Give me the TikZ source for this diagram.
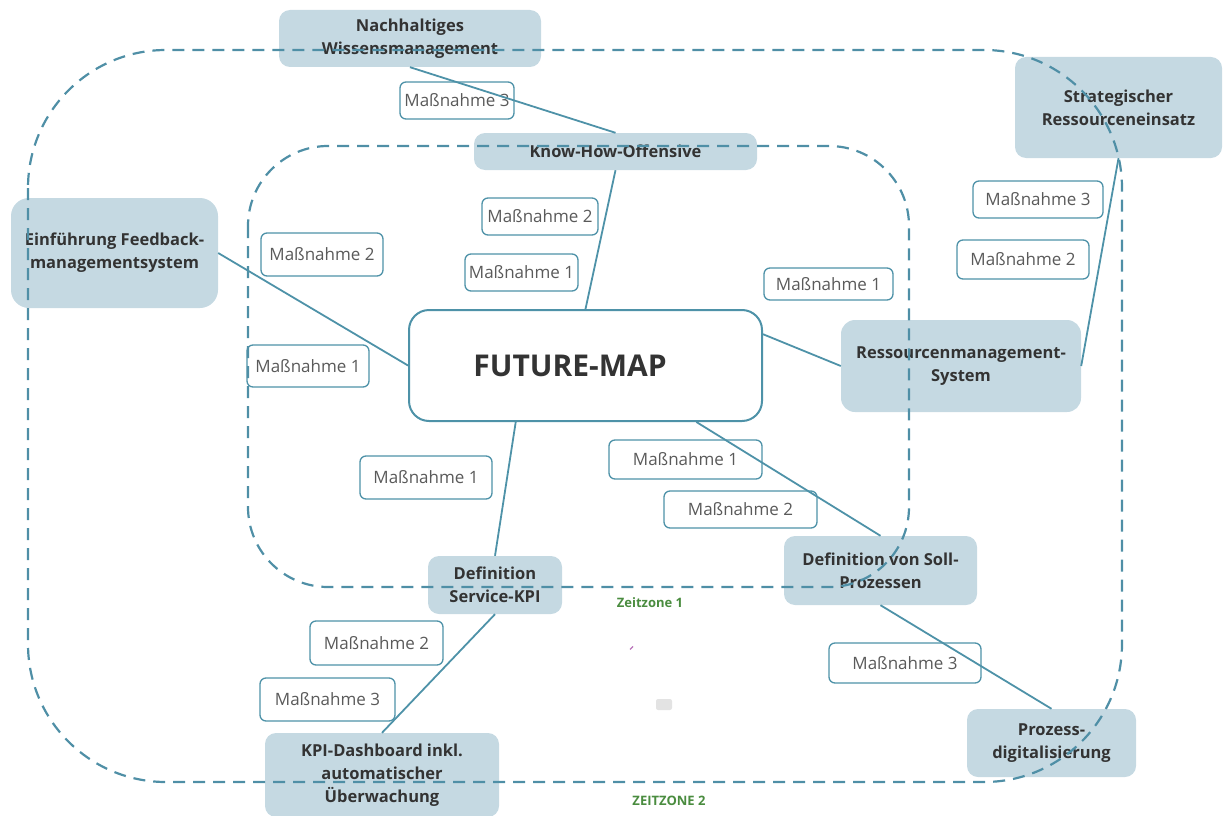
\documentclass[tikz,border=0pt]{standalone}
\usepackage{fontspec}
\setmainfont{Open Sans}
\definecolor{boxblue}{HTML}{C5D9E2}
\definecolor{lineteal}{HTML}{4E92A8}
\definecolor{zoneteal}{HTML}{4F8FA6}
\definecolor{textdark}{HTML}{333333}
\definecolor{textgrey}{HTML}{5A5A5A}
\definecolor{zonegreen}{HTML}{4A8C3F}
\begin{document}
\begin{tikzpicture}[x=1pt,y=-1pt,
  bluebox/.style={rounded corners=11pt, fill=boxblue, draw=none, text=textdark,
    font=\bfseries\fontsize{16.5}{23}\selectfont, align=center, inner sep=0pt},
  mbox/.style={rounded corners=6pt, draw=lineteal, line width=1.3pt, fill=white,
    text=textgrey, font=\fontsize{17}{19}\selectfont, inner sep=0pt},
  mainbox/.style={rounded corners=20pt, draw=lineteal, line width=2pt, fill=white,
    inner sep=0pt},
  conn/.style={draw=lineteal, line width=1.8pt},
  zone/.style={draw=zoneteal, line width=2.2pt, dash pattern=on 12pt off 8pt},
  zonelabel/.style={text=zonegreen, font=\bfseries\fontsize{13}{15}\selectfont, inner sep=0pt}
]
\useasboundingbox (0,0) rectangle (1226,816);

% main topic nodes
\node[bluebox, minimum width=262pt, minimum height=57pt] (nw) at (410,38.5) {Nachhaltiges\\Wissensmanagement};
\node[bluebox, minimum width=283pt, minimum height=37pt] (kh) at (615.5,151.5) {Know-How-Offensive};
\node[bluebox, minimum width=207pt, minimum height=101pt] (sr) at (1118.5,107.5) {Strategischer\\Ressourceneinsatz};
\node[bluebox, minimum width=207pt, minimum height=110pt, rounded corners=18pt] (fb) at (114.5,253) {Einführung Feedback-\\managementsystem};
\node[bluebox, minimum width=240pt, minimum height=92pt, rounded corners=14pt] (rm) at (961,366) {Ressourcenmanagement-\\System};
\node[bluebox, minimum width=193pt, minimum height=69pt] (sp) at (880.5,570.5) {Definition von Soll-\\Prozessen};
\node[bluebox, minimum width=134pt, minimum height=58pt] (sk) at (495,585) {Definition\\Service-KPI};
\node[bluebox, minimum width=234pt, minimum height=84pt] (kd) at (382,775) {KPI-Dashboard inkl.\\automatischer\\Überwachung};
\node[bluebox, minimum width=169pt, minimum height=68pt] (pd) at (1051.5,743) {Prozess-\\digitalisierung};

\node[mainbox, minimum width=353pt, minimum height=111pt] (fm) at (585.5,365.5) {};
\node[text=textdark, font=\bfseries\fontsize{30}{34}\selectfont, inner sep=0pt] (fmt) at (570,366) {FUTURE-MAP};

% measures
\node[mbox, minimum width=114pt, minimum height=37pt] (m1) at (457,100.5) {Maßnahme 3};
\node[mbox, minimum width=122pt, minimum height=43pt] (m2) at (322,254.5) {Maßnahme 2};
\node[mbox, minimum width=122pt, minimum height=42pt] (m3) at (308,366) {Maßnahme 1};
\node[mbox, minimum width=116pt, minimum height=37pt] (m4) at (540,216.5) {Maßnahme 2};
\node[mbox, minimum width=113pt, minimum height=37pt] (m5) at (521.5,272.5) {Maßnahme 1};
\node[mbox, minimum width=129pt, minimum height=32pt] (m6) at (828.5,284) {Maßnahme 1};
\node[mbox, minimum width=130pt, minimum height=37pt] (m7) at (1038,199.5) {Maßnahme 3};
\node[mbox, minimum width=132pt, minimum height=39pt] (m8) at (1023,259.5) {Maßnahme 2};
\node[mbox, minimum width=132pt, minimum height=43pt] (m9) at (426,477.5) {Maßnahme 1};
\node[mbox, minimum width=153pt, minimum height=39pt] (m10) at (685.5,459.5) {Maßnahme 1};
\node[mbox, minimum width=153pt, minimum height=37pt] (m11) at (740.5,509.5) {Maßnahme 2};
\node[mbox, minimum width=133pt, minimum height=44pt] (m12) at (376.5,643) {Maßnahme 2};
\node[mbox, minimum width=135pt, minimum height=43pt] (m13) at (327.5,699.5) {Maßnahme 3};
\node[mbox, minimum width=152pt, minimum height=40pt] (m14) at (905,663) {Maßnahme 3};

% zones
\draw[zone, rounded corners=138pt] (28,50) rectangle (1122,782);
\draw[zone, rounded corners=80pt] (248,146) rectangle (909,587);
\node[zonelabel] (z1) at (650,603) {Zeitzone 1};
\node[zonelabel] (z2) at (669,801) {ZEITZONE 2};

% connectors
\draw[conn] (nw.south) -- (kh.north);
\draw[conn] (kh.south) -- (fm.north);
\draw[conn] (fb.east) -- (fm.west);
\draw[conn] (fm.10.4) -- (rm.west);
\draw[conn] (rm.east) -- (sr.south);
\draw[conn] (fm.219) -- (sk.north);
\draw[conn] (fm.333.5) -- (sp.north);
\draw[conn] (sk.south) -- (kd.north);
\draw[conn] (sp.south) -- (pd.north);

% small stray marks
\node[fill=black!11, rounded corners=2pt, minimum width=16pt, minimum height=11pt, inner sep=0pt] (gr) at (664,704.5) {};
\coordinate (pa) at (630,649.5);
\coordinate (pb) at (633,646.5);
\draw[draw=violet!55, line width=1.2pt] (pa) -- (pb);
\end{tikzpicture}
\end{document}
